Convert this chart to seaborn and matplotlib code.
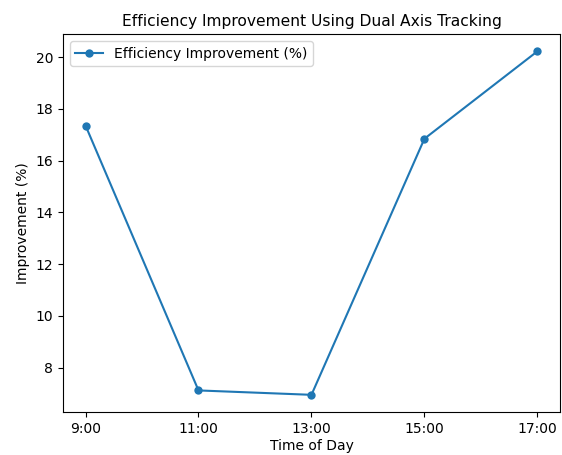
import matplotlib
matplotlib.use("Agg")
import matplotlib.pyplot as plt
import seaborn as sns
import pandas as pd

times = ["9:00", "11:00", "13:00", "15:00", "17:00"]
improvement = [17.36, 7.12, 6.95, 16.85, 20.23]

df = pd.DataFrame({"Time of Day": times, "Improvement": improvement})

plt.rcParams.update({"font.size": 10, "axes.titlesize": 11.2})

fig, ax = plt.subplots(figsize=(5.62, 4.55), dpi=100)
sns.lineplot(data=df, x="Time of Day", y="Improvement", marker="o",
             markersize=6, markeredgewidth=0, color="#1f77b4", ax=ax,
             label="Efficiency Improvement (%)", sort=False)
ax.set_title("Efficiency Improvement Using Dual Axis Tracking")
ax.set_xlabel("Time of Day", labelpad=2)
ax.set_ylabel("Improvement (%)")
ax.legend(loc="upper left")
fig.subplots_adjust(left=0.112, right=0.9964, top=0.925, bottom=0.0945)
fig.savefig("out.png", dpi=100)
